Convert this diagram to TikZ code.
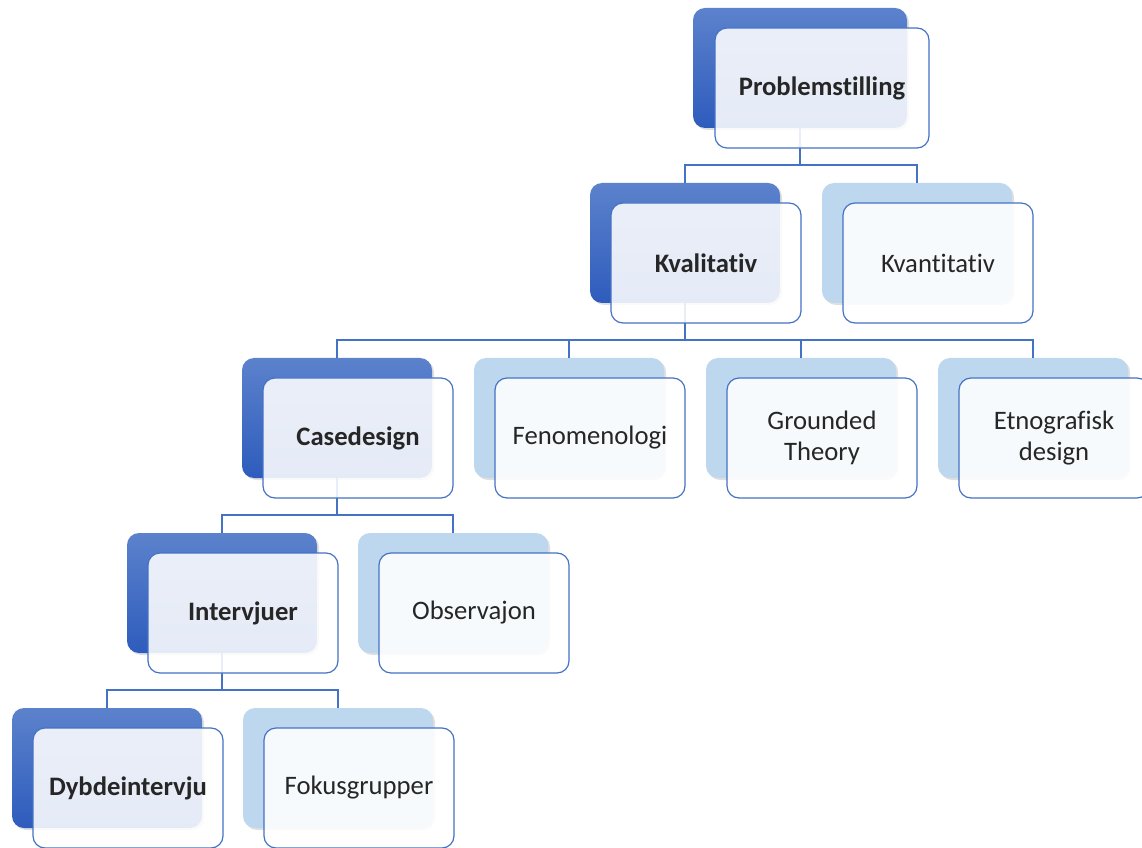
\documentclass[tikz,border=0pt]{standalone}
\usepackage{fontspec}
\setmainfont{Carlito}[Ligatures={NoCommon}]
\usetikzlibrary{calc,shadows}
\definecolor{accent}{HTML}{4472C4}
\definecolor{darktop}{HTML}{5C82CC}
\definecolor{darkbot}{HTML}{2E5CBD}
\definecolor{lightbg}{HTML}{BDD7EE}
\definecolor{ink}{HTML}{262626}
\tikzset{
  every node/.style={font=\fontsize{20}{23}\selectfont,text=ink},
  backbox/.style={rounded corners=9pt,minimum width=142.5pt,minimum height=90pt,inner sep=0pt,
    drop shadow={shadow xshift=1.5pt,shadow yshift=-1.5pt,opacity=0.25}},
  mainbg/.style={backbox,top color=darktop,bottom color=darkbot},
  sidebg/.style={backbox,fill=lightbg},
  front/.style={draw=accent,line width=0.9pt,rounded corners=9pt,fill=white,fill opacity=0.88,text opacity=1,
    minimum width=142.5pt,minimum height=90pt,align=center,inner sep=0pt},
  mainbox/.style={front,font=\fontsize{20}{23}\selectfont\bfseries},
  conn/.style={draw=accent,line width=1.5pt},
}

\begin{document}
\begin{tikzpicture}[x=0.75pt,y=-0.75pt]
\useasboundingbox (0,0) rectangle (1142,848);
\clip (0,0) rectangle (1142,848);

% --- back plates
\node[mainbg,minimum width=160.5pt] (prob-bg) at (800,68) {};
\node[mainbg] (kval-bg) at (685,243) {};
\node[sidebg] (kvan-bg) at (917,243) {};
\node[mainbg] (case-bg) at (337,418) {};
\node[sidebg] (feno-bg) at (569,418) {};
\node[sidebg] (grou-bg) at (801,418) {};
\node[sidebg] (etno-bg) at (1033,418) {};
\node[mainbg] (intv-bg) at (222,593) {};
\node[sidebg] (obs-bg) at (453,593) {};
\node[mainbg] (dyb-bg) at (107,768) {};
\node[sidebg] (fok-bg) at (338,768) {};

% --- connectors
\foreach \p/\c in {prob/kval,prob/kvan,kval/case,kval/feno,kval/grou,kval/etno,case/intv,case/obs,intv/dyb,intv/fok}
  \draw[conn] (\p-bg.south) -- ++(0,37) -| (\c-bg.north);

% --- front cards
\node[mainbox,minimum width=160.5pt] (prob) at ($(prob-bg)+(22,20)$) {Problemstilling};
\node[mainbox] (kval) at ($(kval-bg)+(21,20)$) {Kvalitativ};
\node[front] (kvan) at ($(kvan-bg)+(21,20)$) {Kvantitativ};
\node[mainbox] (case) at ($(case-bg)+(21,20)$) {Casedesign};
\node[front] (feno) at ($(feno-bg)+(21,20)$) {Fenomenologi};
\node[front] (grou) at ($(grou-bg)+(21,20)$) {Grounded\\Theory};
\node[front] (etno) at ($(etno-bg)+(21,20)$) {Etnografisk\\design};
\node[mainbox] (intv) at ($(intv-bg)+(21,20)$) {Intervjuer};
\node[front] (obs) at ($(obs-bg)+(21,20)$) {Observajon};
\node[mainbox] (dyb) at ($(dyb-bg)+(21,20)$) {Dybdeintervju};
\node[front] (fok) at ($(fok-bg)+(21,20)$) {Fokusgrupper};

\end{tikzpicture}
\end{document}
